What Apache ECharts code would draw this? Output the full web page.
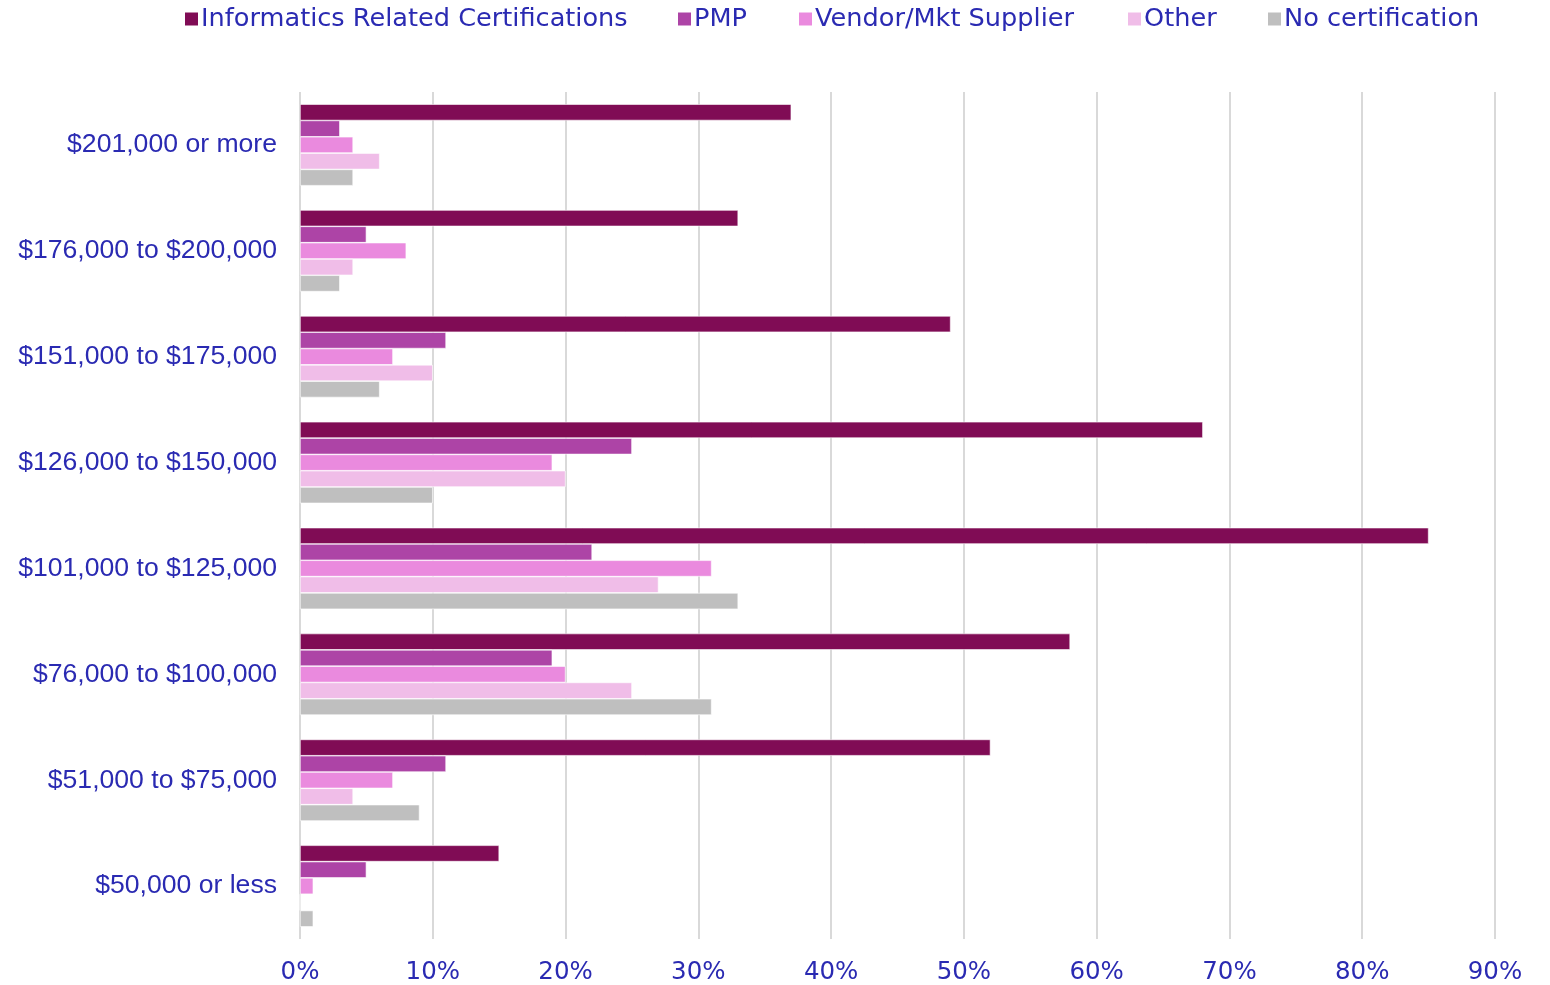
<!DOCTYPE html>
<html><head><meta charset="utf-8">
<script src="https://cdn.jsdelivr.net/npm/echarts@6/dist/echarts.min.js"></script>
<style>html,body{margin:0;padding:0;background:#fff}#c{width:1550px;height:985px}</style>
</head><body><div id="c"></div>
<script>
const categories = ['$201,000 or more','$176,000 to $200,000','$151,000 to $175,000','$126,000 to $150,000','$101,000 to $125,000','$76,000 to $100,000','$51,000 to $75,000','$50,000 or less'];
const seriesNames = ['Informatics Related Certifications','PMP','Vendor/Mkt Supplier','Other','No certification'];
const informatics = [37, 33, 49, 68, 85, 58, 52, 15];
const pmp         = [3, 5, 11, 25, 22, 19, 11, 5];
const vendor      = [4, 8, 7, 19, 31, 20, 7, 1];
const other       = [6, 4, 10, 20, 27, 25, 4, 0];
const noCert      = [4, 3, 6, 10, 33, 31, 9, 1];
const xTicks = [0,10,20,30,40,50,60,70,80,90];

const colors = ['#800c55','#ad44a6','#ea8ade','#f0bde8','#bfbfbf'];
const textColor = '#2a2ab2';
const legendFont = 'DejaVu Sans';
const values = [informatics, pmp, vendor, other, noCert];
const legendLeft = [183, 676, 797, 1126, 1266];

const chart = echarts.init(document.getElementById('c'), null, {renderer:'canvas'});
chart.setOption({
  animation:false,
  color: colors,
  legend: seriesNames.map((n,i)=>({
    data:[n], left: legendLeft[i], top: 6, padding:0, itemWidth:15, itemHeight:15, itemGap:0,
    icon:'rect',
    textStyle:{color:textColor, fontSize:25.6, fontFamily:legendFont, padding:[0,0,0,-3]}
  })),
  grid:{left:300, right:55, top:92, bottom:44, containLabel:false},
  xAxis:{
    type:'value', min:0, max:90, interval:10,
    axisLine:{show:false}, axisTick:{show:false},
    splitLine:{show:true, lineStyle:{color:'#d9d9d9', width:2}},
    axisLabel:{formatter:'{value}%', color:textColor, fontSize:24.5, fontFamily:legendFont, margin:21}
  },
  yAxis:{
    type:'category', data:categories, inverse:true,
    axisLine:{show:false}, axisTick:{show:false},
    axisLabel:{color:textColor, fontSize:26.6, fontFamily:'Liberation Sans', margin:23, padding:[7,0,0,0]}
  },
  series: seriesNames.map((n,i)=>({
    name:n, type:'bar', data:values[i],
    barGap:'0%', barCategoryGap:'23%',
    itemStyle:{color:colors[i], borderColor:'#ffffff', borderWidth:0.6}
  }))
});
</script></body></html>
